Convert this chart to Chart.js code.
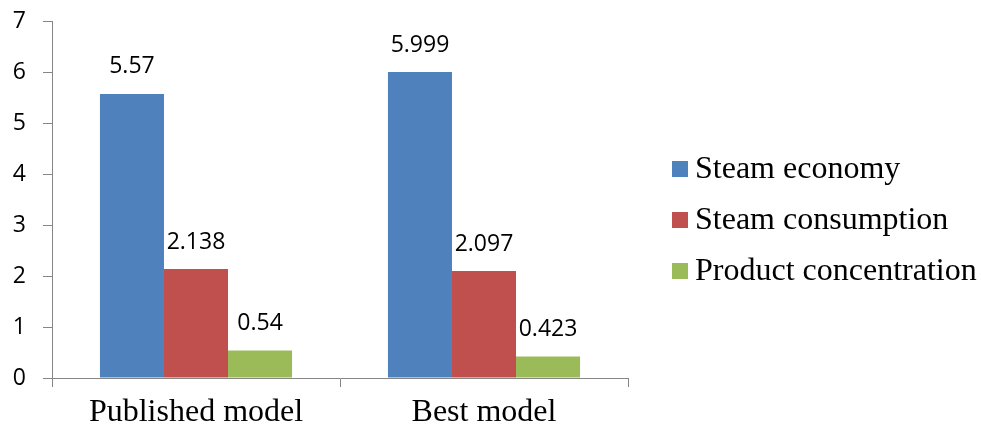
<!DOCTYPE html>
<html>
<head>
<meta charset="utf-8">
<script src="https://cdn.jsdelivr.net/npm/chart.js@4.4.1/dist/chart.umd.min.js"></script>
<style>
  html, body { margin: 0; padding: 0; background: #ffffff; }
  #wrap { position: relative; width: 981px; height: 430px; }
</style>
</head>
<body>
<div id="wrap"><canvas id="chart" width="981" height="430"></canvas></div>
<script>
// Model comparison: three performance measures for each model
const categories = ['Published model', 'Best model'];
const seriesNames = ['Steam economy', 'Steam consumption', 'Product concentration'];
const steamEconomy = [5.57, 5.999];
const steamConsumption = [2.138, 2.097];
const productConcentration = [0.54, 0.423];
const yTicks = [0, 1, 2, 3, 4, 5, 6, 7];

const seriesColors = ['#4F81BD', '#C0504D', '#9BBB59'];
const axisColor = '#868686';
const serifFont = '"Liberation Serif", "Times New Roman", serif';
const sansFont = '"Open Sans", "Liberation Sans", sans-serif';

// Value labels above each bar
const valueLabels = {
  id: 'valueLabels',
  afterDatasetsDraw(chart) {
    const ctx = chart.ctx;
    ctx.save();
    ctx.font = '23px ' + sansFont;
    ctx.fillStyle = '#000000';
    ctx.textAlign = 'center';
    ctx.textBaseline = 'middle';
    chart.data.datasets.forEach((ds, i) => {
      const meta = chart.getDatasetMeta(i);
      meta.data.forEach((bar, j) => {
        ctx.fillText(String(ds.data[j]), bar.x, bar.y - 27);
      });
    });
    ctx.restore();
  }
};

// Legend drawn to the right of the plot
const sideLegend = {
  id: 'sideLegend',
  afterDraw(chart) {
    const ctx = chart.ctx;
    const x0 = chart.chartArea.right + 44;
    const rowGap = 51;
    const yMid = 220;
    ctx.save();
    ctx.font = '32px ' + serifFont;
    ctx.textBaseline = 'middle';
    ctx.textAlign = 'left';
    chart.data.datasets.forEach((ds, i) => {
      const y = yMid + (i - 1) * rowGap;
      ctx.fillStyle = ds.backgroundColor;
      ctx.fillRect(x0, y - 8, 16, 16);
      ctx.fillStyle = '#000000';
      ctx.fillText(ds.label, x0 + 23, y + 1);
    });
    ctx.restore();
  }
};

const chart = new Chart(document.getElementById('chart'), {
  type: 'bar',
  data: {
    labels: categories,
    datasets: [
      { label: seriesNames[0], data: steamEconomy, backgroundColor: seriesColors[0] },
      { label: seriesNames[1], data: steamConsumption, backgroundColor: seriesColors[1] },
      { label: seriesNames[2], data: productConcentration, backgroundColor: seriesColors[2] }
    ]
  },
  options: {
    responsive: false,
    animation: false,
    devicePixelRatio: 1,
    layout: { padding: { top: 21, right: 353, left: 0, bottom: 0 } },
    datasets: {
      bar: { categoryPercentage: 0.667, barPercentage: 1.0, borderWidth: 0 }
    },
    plugins: {
      legend: { display: false },
      tooltip: { enabled: false }
    },
    scales: {
      x: {
        offset: true,
        grid: {
          offset: true,
          drawOnChartArea: false,
          drawTicks: true,
          tickLength: 9,
          color: axisColor,
          lineWidth: 1
        },
        border: { display: true, color: axisColor, width: 1 },
        ticks: {
          color: '#000000',
          padding: 6,
          font: { family: serifFont, size: 32 }
        },
        afterFit(scale) {
          scale.height = 52;
          scale.paddingLeft = 0;
          scale.paddingRight = 0;
        }
      },
      y: {
        min: 0,
        max: 7,
        afterBuildTicks(scale) { scale.ticks = yTicks.map(v => ({ value: v })); },
        grid: {
          drawOnChartArea: false,
          drawTicks: true,
          tickLength: 9,
          color: axisColor,
          lineWidth: 1
        },
        border: { display: true, color: axisColor, width: 1 },
        ticks: {
          color: '#000000',
          padding: 17,
          font: { family: sansFont, size: 23 }
        },
        afterFit(scale) {
          scale.width = 52;
          scale.paddingTop = 0;
          scale.paddingBottom = 0;
        }
      }
    }
  },
  plugins: [valueLabels, sideLegend]
});
</script>
</body>
</html>
